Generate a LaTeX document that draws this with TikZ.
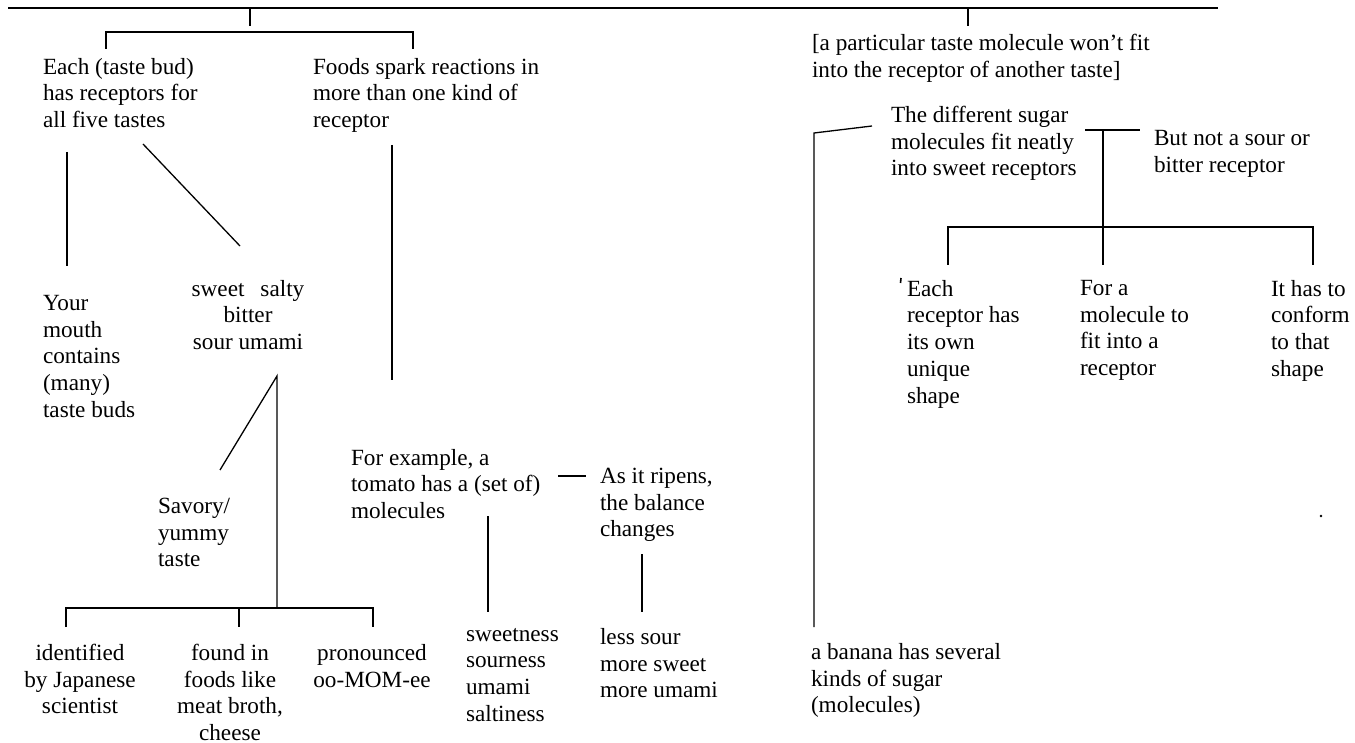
\documentclass[tikz,border=0pt]{standalone}
\usepackage{fontspec}
\setmainfont{Liberation Serif}
\begin{document}
\begin{tikzpicture}[x=0.5pt,y=-0.5pt,
  conn/.style={draw=black, line width=0.65pt},
  txt/.style={anchor=north west, inner sep=0pt, outer sep=0pt, align=left,
    font=\fontsize{11.6}{13.35}\selectfont,
    execute at begin node={\rule{0pt}{9.4pt}}, yshift=6.4pt},
  ctxt/.style={txt, anchor=north, align=center}]
\useasboundingbox (0,0) rectangle (1355,743);

% ---- text nodes (position = first baseline) ----
\node[txt] (each) at (43,71) {Each (taste bud)\\has receptors for\\all five tastes};
\node[txt] (foods) at (313,71) {Foods spark reactions in\\more than one kind of\\receptor};
\node[txt] (particular) at (812,47) {[a particular taste molecule won’t fit\\into the receptor of another taste]};
\node[txt] (mouth) at (43,308) {Your\\mouth\\contains\\(many)\\taste buds};
\node[ctxt] (tastes) at (248,293) {sweet\hspace{8pt}salty\\bitter\\sour umami};
\node[txt] (savory) at (158,511) {Savory/\\yummy\\taste};
\node[ctxt] (identified) at (80,657) {identified\\by Japanese\\scientist};
\node[ctxt] (found) at (230,657) {found in\\foods like\\meat broth,\\cheese};
\node[ctxt] (pronounced) at (372,657) {pronounced\\oo-MOM-ee};
\node[txt] (tomato) at (351,462) {For example, a\\tomato has a (set of)\\molecules};
\node[txt] (ripens) at (600,481) {As it ripens,\\the balance\\changes};
\node[txt] (sweetness) at (466,641) {sweetness\\sourness\\umami\\saltiness};
\node[txt] (lesssour) at (600,641) {less sour\\more sweet\\more umami};
\node[txt] (sugar) at (891,119) {The different sugar\\molecules fit neatly\\into sweet receptors};
\node[txt] (notsour) at (1154,143) {But not a sour or\\bitter receptor};
\node[txt] (banana) at (811,656) {a banana has several\\kinds of sugar\\(molecules)};
\node[txt] (eachrec) at (907,293) {Each\\receptor has\\its own\\unique\\shape};
\node[txt] (fora) at (1080,293) {For a\\molecule to\\fit into a\\receptor};
\node[txt] (conform) at (1271,293) {It has to\\conform\\to that\\shape};

% ---- connector points ----
\coordinate (topL) at (8,8);
\coordinate (topR) at (1218,8);
\coordinate (t1a) at (250,8);
\coordinate (t1b) at (250,26);
\coordinate (b1l) at (106,49);
\coordinate (b1lc) at (106,32);
\coordinate (b1rc) at (413,32);
\coordinate (b1r) at (413,49);
\coordinate (eachD1) at (67,152);
\coordinate (mouthU) at (67,266);
\coordinate (eachD2) at (143,144);
\coordinate (tastesU) at (240,246);
\coordinate (foodsD) at (392,145);
\coordinate (tomatoU) at (392,380);
\coordinate (savoryU) at (220,470);
\coordinate (tastesD) at (277,376);
\coordinate (b2m) at (277,608);
\coordinate (b2l) at (66,627);
\coordinate (b2lc) at (66,608);
\coordinate (b2rc) at (373,608);
\coordinate (b2r) at (373,627);
\coordinate (b2c) at (239,608);
\coordinate (b2cd) at (239,627);
\coordinate (tomR) at (558,476);
\coordinate (ripL) at (586,476);
\coordinate (tomD) at (488,516);
\coordinate (sweetU) at (488,612);
\coordinate (ripD) at (642,554);
\coordinate (lessU) at (642,612);
\coordinate (t2a) at (968,8);
\coordinate (t2b) at (968,26);
\coordinate (sugL) at (872,126);
\coordinate (banC) at (814,133);
\coordinate (banU) at (814,627);
\coordinate (sugR) at (1085,130);
\coordinate (notL) at (1140,130);
\coordinate (midT) at (1103,130);
\coordinate (midB) at (1103,265);
\coordinate (b3l) at (948,265);
\coordinate (b3lc) at (948,227);
\coordinate (b3rc) at (1313,227);
\coordinate (b3r) at (1313,265);

% ---- connectors ----
\draw[conn] (topL) -- (topR);
\draw[conn] (t1a) -- (t1b);
\draw[conn] (b1l) -- (b1lc) -- (b1rc) -- (b1r);
\draw[conn] (eachD1) -- (mouthU);
\draw[conn] (eachD2) -- (tastesU);
\draw[conn] (foodsD) -- (tomatoU);
\draw[conn] (savoryU) -- (tastesD) -- (b2m);
\draw[conn] (b2l) -- (b2lc) -- (b2rc) -- (b2r);
\draw[conn] (b2c) -- (b2cd);
\draw[conn] (tomR) -- (ripL);
\draw[conn] (tomD) -- (sweetU);
\draw[conn] (ripD) -- (lessU);
\draw[conn] (t2a) -- (t2b);
\draw[conn] (sugL) -- (banC) -- (banU);
\draw[conn] (sugR) -- (notL);
\draw[conn] (midT) -- (midB);
\draw[conn] (b3l) -- (b3lc) -- (b3rc) -- (b3r);

% small stray marks printed in the picture
\draw[line width=0.8pt] (901,278) -- (900.5,283);
\fill (1321,516) circle (1.3);
\end{tikzpicture}
\end{document}
